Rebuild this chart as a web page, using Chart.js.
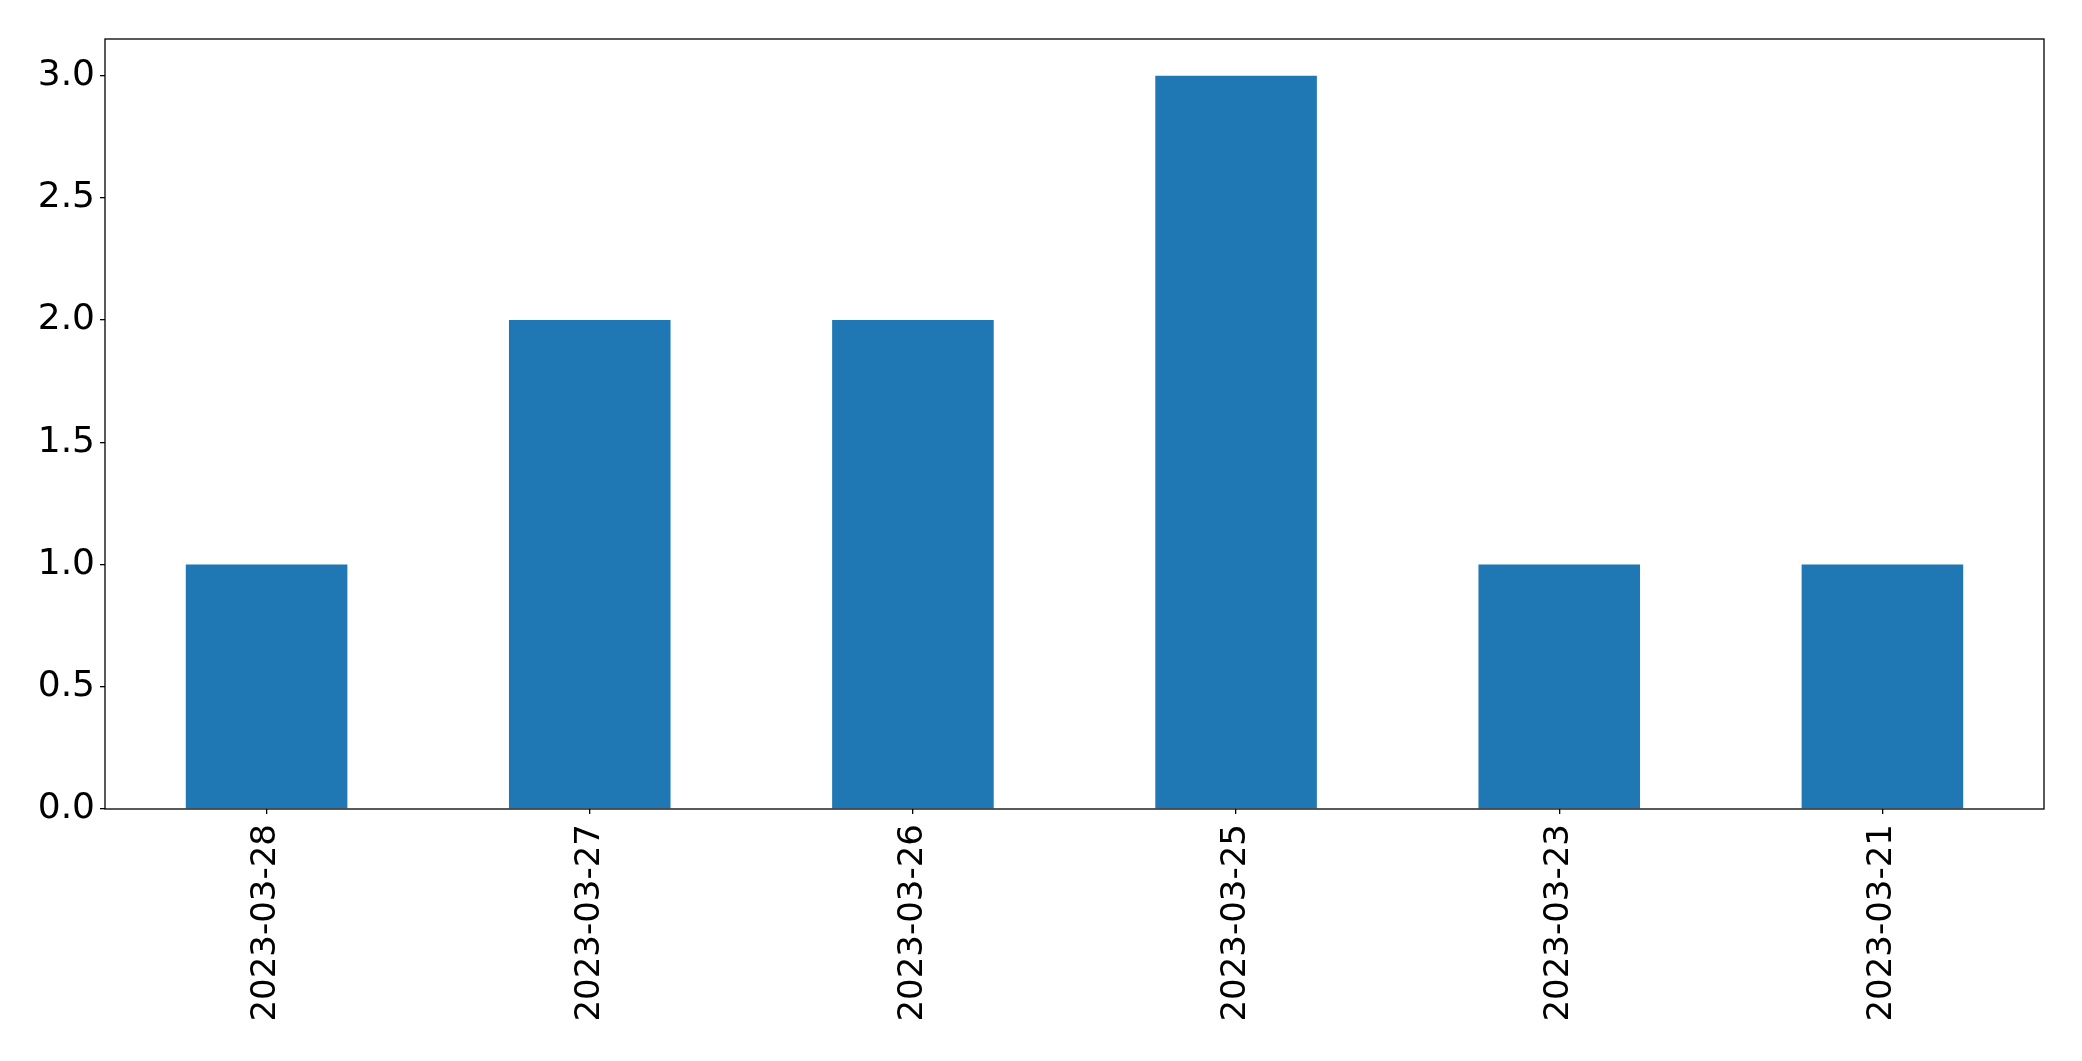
<!DOCTYPE html>
<html>
<head>
<meta charset="utf-8">
<script src="https://cdn.jsdelivr.net/npm/chart.js@4/dist/chart.umd.min.js"></script>
<style>
body{margin:0;background:#fff}
#wrap{width:2082px;height:1061px}
</style>
</head>
<body>
<div id="wrap"><canvas id="chart" width="2082" height="1061"></canvas></div>
<script>

const dates=["2023-03-28","2023-03-27","2023-03-26","2023-03-25","2023-03-23","2023-03-21"]
const counts=[1,2,2,3,1,1]
const yTicks=[0,0.5,1,1.5,2,2.5,3]

// full box round the plot like matplotlib spines
const boxPlugin=
{
id:"box",
afterDraw(chart)
{
const a=chart.chartArea
const c=chart.ctx
c.save()
c.strokeStyle="#000"
c.lineWidth=1.3
c.strokeRect(a.left,a.top,a.right-a.left,a.bottom-a.top)
c.restore()
}
}

Chart.defaults.font.family="'DejaVu Sans', sans-serif"
Chart.defaults.font.size=34
Chart.defaults.color="#000"

new Chart(document.getElementById("chart"),
{
type:"bar",
data:
{
labels:dates,
datasets:[
{
data:counts,
backgroundColor:"#1f77b4",
borderWidth:0,
barPercentage:0.5,
categoryPercentage:1
}
]
},
options:
{
responsive:false,
devicePixelRatio:1,
animation:false,
layout:{padding:{top:39,right:38,left:0,bottom:0}},
plugins:{legend:{display:false},tooltip:{enabled:false}},
scales:
{
x:
{
offset:true,
grid:{display:true,drawOnChartArea:false,tickLength:5,color:"#000",lineWidth:1.3,offset:false},
border:{display:false},
ticks:{minRotation:90,maxRotation:90,padding:10},
afterFit(s){s.height=252}
},
y:
{
min:0,
max:3.15,
grid:{display:true,drawOnChartArea:false,tickLength:5,color:"#000",lineWidth:1.3},
border:{display:false},
ticks:{padding:5,font:{size:36},callback:v=>v.toFixed(1)},
afterBuildTicks(s){s.ticks=yTicks.map(v=>({value:v}))},
afterFit(s){s.width=105}
}
}
},
plugins:[boxPlugin]
})

</script>
</body>
</html>
